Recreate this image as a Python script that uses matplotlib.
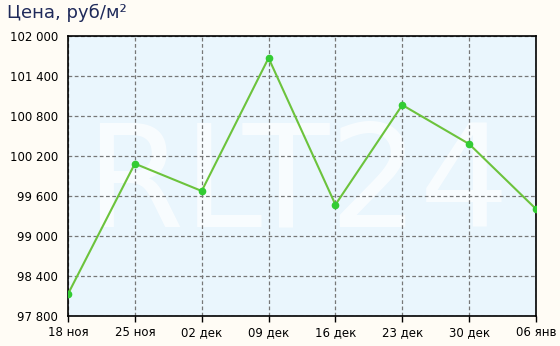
import matplotlib
matplotlib.use("Agg")
import matplotlib.pyplot as plt

dates = ["18 ноя", "25 ноя", "02 дек", "09 дек", "16 дек", "23 дек", "30 дек", "06 янв"]
prices = [98130, 100085, 99675, 101670, 99470, 100965, 100380, 99405]
yticks = [97800, 98400, 99000, 99600, 100200, 100800, 101400, 102000]
ylabels = ["97 800", "98 400", "99 000", "99 600", "100 200", "100 800", "101 400", "102 000"]

fig = plt.figure(figsize=(5.6, 3.46), dpi=100, facecolor="#fffcf5")
ax = fig.add_axes([68 / 560, 30 / 346, 468 / 560, 280 / 346])
ax.set_facecolor("#eaf6fd")

x = list(range(len(dates)))
# faint watermark behind the data
ax.text(0.49, 0.46, "RLT24", transform=ax.transAxes, ha="center", va="center",
        fontsize=102, color="white", alpha=0.7, zorder=0)
ax.plot(x, prices, "-", color="#6cc33c", lw=1.5, zorder=3)
ax.plot(x, prices, "o", color="#33cc33", ms=4.5, zorder=4)

ax.set_xlim(0, len(dates) - 1)
ax.set_ylim(97800, 102000)
ax.set_xticks(x)
ax.set_xticklabels(dates)
ax.set_yticks(yticks)
ax.set_yticklabels(ylabels)
ax.tick_params(axis="x", length=4, width=1, color="black", labelsize=8.5, pad=3)
ax.tick_params(axis="y", length=0, labelsize=8.5, pad=7)
ax.grid(True, color="#777777", linestyle=(0, (3, 2)), lw=0.9)
for s in ax.spines.values():
    s.set_color("black")
    s.set_linewidth(1.2)

fig.text(7 / 560, 1 - 13 / 346, "Цена, руб/м²", fontsize=13, color="#1f2a5a",
         ha="left", va="center")

fig.savefig("out.png", dpi=100, facecolor=fig.get_facecolor())
